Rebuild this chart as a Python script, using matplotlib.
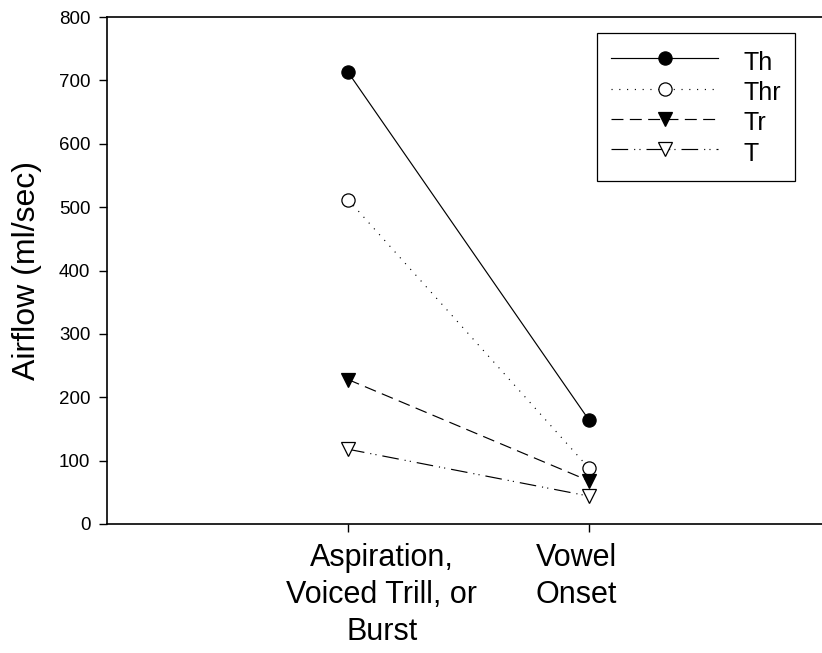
import matplotlib
matplotlib.use("Agg")
import matplotlib.pyplot as plt
import matplotlib.transforms as mtransforms

plt.rcParams['font.family'] = ['Liberation Sans', 'DejaVu Sans']
plt.rcParams['lines.scale_dashes'] = False

categories = ["Aspiration,\nVoiced Trill, or\nBurst", "Vowel\nOnset"]
series_names = ["Th", "Thr", "Tr", "T"]
th_values = [713, 164]
thr_values = [512, 88]
tr_values = [228, 68]
t_values = [118, 44]
y_ticks = [0, 100, 200, 300, 400, 500, 600, 700, 800]

W, H = 822, 653
fig = plt.figure(figsize=(W / 100, H / 100), dpi=100)
ax = fig.add_axes([107 / W, (H - 524) / H, 723 / W, (524 - 17) / H])

x = [1, 2]
lw = 0.85
common = dict(color='black', linewidth=lw, markersize=9.5, markeredgewidth=0.9,
              markeredgecolor='black', clip_on=False)
ax.plot(x, th_values, linestyle='-', marker='o', markerfacecolor='black',
        label=series_names[0], **common)
ax.plot(x, thr_values, linestyle=(0, (0.8, 4.8)), marker='o', markerfacecolor='white',
        label=series_names[1], **common)
ax.plot(x, tr_values, linestyle=(0, (8.6, 4.6)), marker='v', markerfacecolor='black',
        label=series_names[2], **common)
ax.plot(x, t_values, linestyle=(0, (12, 4.3, 0.8, 3, 0.8, 4.3)), marker='v',
        markerfacecolor='white', label=series_names[3], **common)

ax.set_xlim(0, 3)
ax.set_ylim(0, 800)
ax.set_yticks(y_ticks)
ax.set_xticks(x)
ax.set_xticklabels(categories, fontsize=22, linespacing=1.3)
ax.tick_params(axis='y', labelsize=13.5, length=5.5, width=1, direction='out', pad=6.5)
ax.tick_params(axis='x', length=5.5, width=1, direction='out', pad=8.5)

# SigmaPlot-style label offsets
offsets = [34, -13]
for lab, dx in zip(ax.get_xticklabels(), offsets):
    lab.set_transform(lab.get_transform() +
                      mtransforms.ScaledTranslation(dx / 100, 0, fig.dpi_scale_trans))

ax.set_ylabel("Airflow (ml/sec)", fontsize=23, labelpad=12)

for s in ['left', 'bottom', 'top']:
    ax.spines[s].set_linewidth(1.2)
ax.spines['right'].set_visible(False)

leg = ax.legend(loc='upper left', bbox_to_anchor=(597 / W, 1 - 33 / H),
                bbox_transform=fig.transFigure, borderaxespad=0,
                fontsize=18, handlelength=4.3, handletextpad=1.0,
                handleheight=1.4, labelspacing=0.06, borderpad=0.55,
                fancybox=False, framealpha=1, edgecolor='black')
leg.get_frame().set_linewidth(0.9)

fig.savefig("out.png", dpi=100)
